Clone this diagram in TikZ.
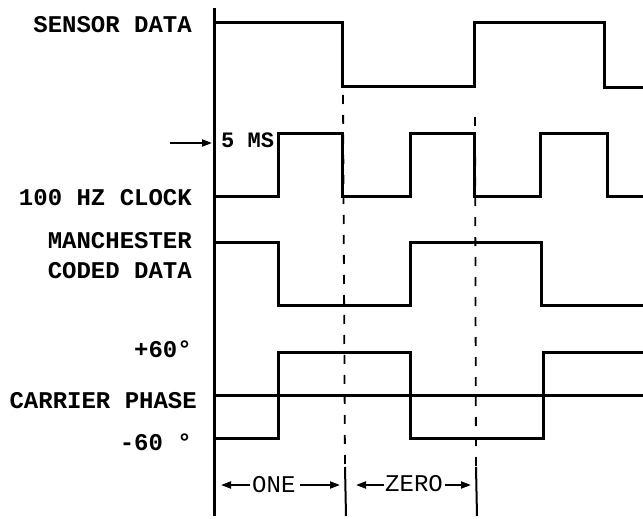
\documentclass[tikz,border=0pt]{standalone}
\usepackage{fontspec}
\newfontfamily\tw{Liberation Mono}
\usetikzlibrary{arrows.meta}
\begin{document}
\begin{tikzpicture}[x=1pt,y=-1pt,
  wave/.style={line width=3pt, line join=miter},
  axisline/.style={line width=3pt},
  guide/.style={line width=1.8pt, dash pattern=on 9pt off 11pt},
  marker/.style={line width=2pt},
  lbl/.style={font=\tw\bfseries\fontsize{24}{26}\selectfont, inner sep=0pt, anchor=base east},
  small/.style={font=\tw\fontsize{24}{26}\selectfont, inner sep=0pt},
  arr/.style={line width=2pt, -{Triangle[length=10pt,width=7pt]}}]
\useasboundingbox (0,0) rectangle (643,519);
% labels
\node[lbl] (sd) at (192,33) {SENSOR DATA};
\node[lbl] (clk) at (192,205) {100 HZ CLOCK};
\node[lbl] (man) at (192,248) {MANCHESTER};
\node[lbl] (cod) at (192,278) {CODED DATA};
\node[lbl] (p60) at (192,357) {+60°};
\node[lbl] (cp) at (197,408) {CARRIER PHASE};
\node[lbl] (m60) at (192,450) {-60 °};
\node[lbl, anchor=base west, font=\tw\bfseries\fontsize{22}{24}\selectfont] (ms) at (221,147) {5 MS};
% axis
\coordinate (axT) at (214,8);
\coordinate (axB) at (214,516);
\draw[axisline] (axT) -- (axB);
% arrow to 5 MS
\coordinate (a5) at (170,143);
\coordinate (a5e) at (212,143);
\draw[arr] (a5) -- (a5e);
% waveforms
\draw[wave] (214,23) -- (342,23) -- (342,87) -- (474,87) -- (474,23) -- (604,23) -- (604,88) -- (643,88);
\draw[wave] (214,196) -- (278,196) -- (278,133) -- (342,133) -- (342,196) -- (410,196) -- (410,133) -- (474,133) -- (474,196) -- (540,196) -- (540,133) -- (607,133) -- (607,196) -- (643,196);
\draw[wave] (214,242) -- (278,242) -- (278,305) -- (410,305) -- (410,242) -- (541,242) -- (541,305) -- (643,305);
\draw[wave] (214,438) -- (278,438) -- (278,352) -- (410,352) -- (410,438) -- (543,438) -- (543,352) -- (643,352);
\draw[wave] (214,395) -- (643,395);
% guides
\coordinate (g1t) at (343,95);
\coordinate (g1m) at (345,467);
\coordinate (g1b) at (346,516);
\coordinate (g2t) at (475,117);
\coordinate (g2m) at (476,467);
\coordinate (g2b) at (477,516);
\draw[guide] (g1t) -- (g1m);
\draw[marker] (g1m) -- (g1b);
\draw[guide] (g2t) -- (g2m);
\draw[marker] (g2m) -- (g2b);
% ONE / ZERO
\node[small, anchor=base west] (one) at (252,492) {ONE};
\node[small, anchor=base west] (zero) at (385,491) {ZERO};
\coordinate (o1) at (221,485);
\coordinate (o2) at (340,485);
\coordinate (z1) at (356,485);
\coordinate (z2) at (471,485);
\draw[arr] (one.west |- o1) ++(-2,0) -- (o1);
\draw[arr] (one.east |- o2) ++(4,0) -- (o2);
\draw[arr] (zero.west |- z1) ++(-1,0) -- (z1);
\draw[arr] (zero.east |- z2) ++(2,0) -- (z2);
\end{tikzpicture}
\end{document}
